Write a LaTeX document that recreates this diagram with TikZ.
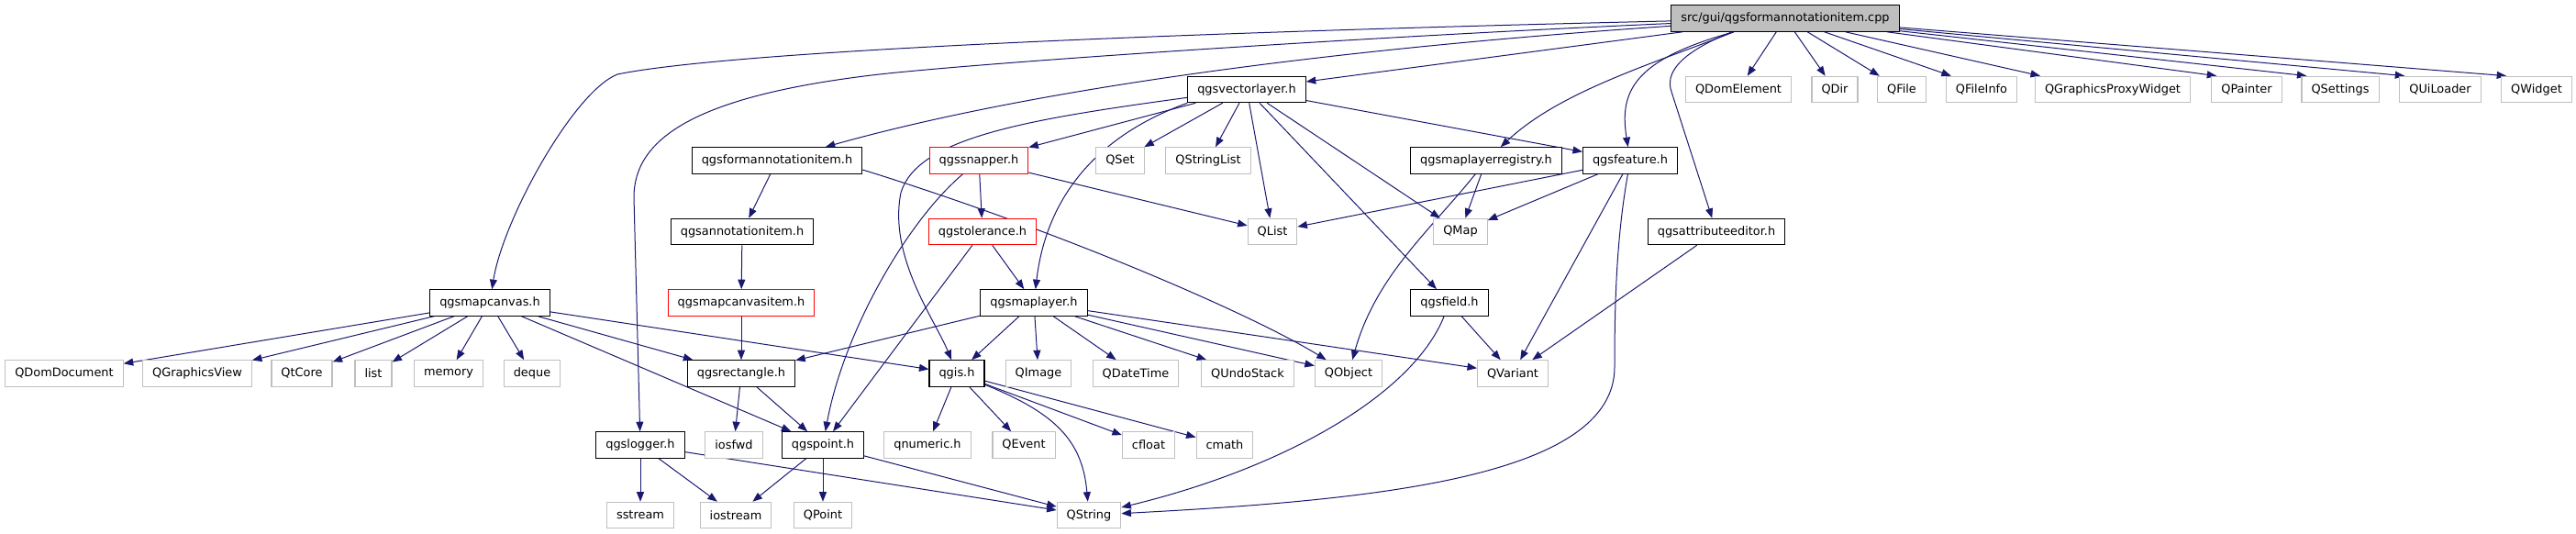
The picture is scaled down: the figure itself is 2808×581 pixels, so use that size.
\documentclass[tikz,border=0pt]{standalone}
\usepackage{fontspec}
\setmainfont{DejaVu Sans}
\usetikzlibrary{arrows.meta}
\definecolor{edgecol}{HTML}{191970}
\definecolor{extgray}{HTML}{BFBFBF}
\definecolor{rootfill}{HTML}{BFBFBF}
\pgfdeclarelayer{bg}
\pgfsetlayers{bg,main}
\begin{document}
\begin{tikzpicture}[x=1pt,y=-1pt,
  box/.style={draw, line width=1.1pt, fill=white, font=\fontsize{12.9}{14}\selectfont,
    inner xsep=10.5pt, inner ysep=0pt, minimum height=28.5pt, anchor=center},
  hdr/.style={box, draw=black},
  ext/.style={box, draw=extgray},
  redb/.style={box, draw=red},
  rootb/.style={box, draw=black, fill=rootfill},
  edge/.style={draw=edgecol, line width=1pt, -{Triangle[length=10.5pt,width=8pt]}},
]
\useasboundingbox (0,0) rectangle (2808,581);
% row 1
\node[rootb] (root) at (1946,20) {src/gui/qgsformannotationitem.cpp};
% row 2
\node[hdr] (vl) at (1359,97.5) {qgsvectorlayer.h};
\node[ext] (qde) at (1895,97.5) {QDomElement};
\node[ext] (qdir) at (2000,97.5) {QDir};
\node[ext] (qfile) at (2073,97.5) {QFile};
\node[ext] (qfinfo) at (2160,97.5) {QFileInfo};
\node[ext] (qgpw) at (2303,97.5) {QGraphicsProxyWidget};
\node[ext] (qpainter) at (2449,97.5) {QPainter};
\node[ext] (qsettings) at (2551,97.5) {QSettings};
\node[ext] (quil) at (2660,97.5) {QUiLoader};
\node[ext] (qwidget) at (2765,97.5) {QWidget};
% row 3
\node[hdr] (fai) at (847,175) {qgsformannotationitem.h};
\node[redb] (snap) at (1067,175) {qgssnapper.h};
\node[ext] (qset) at (1221,175) {QSet};
\node[ext] (qsl) at (1317,175) {QStringList};
\node[hdr] (mlr) at (1620,175) {qgsmaplayerregistry.h};
\node[hdr] (feat) at (1777,175) {qgsfeature.h};
% row 4
\node[hdr] (ai) at (809,252.5) {qgsannotationitem.h};
\node[redb] (tol) at (1071,252.5) {qgstolerance.h};
\node[ext] (qlist) at (1387,252.5) {QList};
\node[ext] (qmap) at (1592,252.5) {QMap};
\node[hdr] (attr) at (1871,252.5) {qgsattributeeditor.h};
% row 5
\node[hdr] (cnv) at (534,330) {qgsmapcanvas.h};
\node[redb] (mci) at (808,330) {qgsmapcanvasitem.h};
\node[hdr] (ml) at (1127,330) {qgsmaplayer.h};
\node[hdr] (field) at (1580,330) {qgsfield.h};
% row 6
\node[ext] (qdd) at (70,407) {QDomDocument};
\node[ext] (qgv) at (215,407) {QGraphicsView};
\node[ext] (qtcore) at (329,407) {QtCore};
\node[ext] (list) at (407,407) {list};
\node[ext] (memory) at (489,407) {memory};
\node[ext] (deque) at (580,407) {deque};
\node[hdr] (rect) at (808,407) {qgsrectangle.h};
\node[hdr] (qgis) at (1043,407) {qgis.h};
\node[ext] (qimage) at (1132,407) {QImage};
\node[ext] (qdt) at (1238,407) {QDateTime};
\node[ext] (qus) at (1360,407) {QUndoStack};
\node[ext] (qobj) at (1470,407) {QObject};
\node[ext] (qvar) at (1649,407) {QVariant};
% row 7
\node[hdr] (log) at (698,485) {qgslogger.h};
\node[ext] (iosfwd) at (800,485) {iosfwd};
\node[hdr] (pt) at (897,485) {qgspoint.h};
\node[ext] (qnum) at (1011,485) {qnumeric.h};
\node[ext] (qevent) at (1116,485) {QEvent};
\node[ext] (cfloat) at (1252,485) {cfloat};
\node[ext] (cmath) at (1335,485) {cmath};
% row 8
\node[ext] (sstream) at (698,561.5) {sstream};
\node[ext] (iostream) at (802,561.5) {iostream};
\node[ext] (qpoint) at (897,561.5) {QPoint};
\node[ext] (qstring) at (1187,561.5) {QString};

\begin{pgfonlayer}{bg}
% root
\draw[edge] (root) .. controls (1300,35) and (800,55) .. (673,81) .. controls (625,100) and (548,240) .. (cnv);
\draw[edge] (root) .. controls (1450,42) and (1050,70) .. (950,82) .. controls (760,105) and (691,150) .. (691,215) -- (log);
\draw[edge] (root) .. controls (1500,50) and (1150,90) .. (fai);
\draw[edge] (root) -- (vl);
\draw[edge] ([xshift=-56pt]root.south) .. controls (1800,70) and (1700,100) .. (mlr);
\draw[edge] ([xshift=-56pt]root.south) .. controls (1780,65) and (1765,100) .. (feat);
\draw[edge] ([xshift=-58pt]root.south) .. controls (1830,58) and (1815,80) .. (1822,100) -- (attr);
\foreach \t in {qde,qdir,qfile}
  \draw[edge] (root) -- (\t);
\foreach \t in {qfinfo,qgpw,qpainter,qsettings,quil,qwidget}
  \draw[edge] (root) -- ([xshift=6pt]\t.north west);
% qgsformannotationitem.h
\draw[edge] (fai) -- (ai);
\draw[edge] ([yshift=-10pt]fai.east) .. controls (1150,250) and (1360,340) .. (qobj);
\draw[edge] (ai) -- (mci);
\draw[edge] (mci) -- (rect);
% qgsmapcanvas.h
\foreach \t in {qdd,qgv,qtcore,list,memory,deque,rect,pt,qgis}
  \draw[edge] (cnv) -- (\t);
\draw[edge] (rect) -- (iosfwd);
\draw[edge] (rect) -- (pt);
\foreach \t in {sstream,iostream,qstring}
  \draw[edge] (log) -- (\t);
\foreach \t in {iostream,qpoint,qstring}
  \draw[edge] (pt) -- (\t);
% qgsvectorlayer.h
\draw[edge] (vl) .. controls (1120,130) and (1000,150) .. (982,210) .. controls (968,280) and (1020,350) .. (qgis);
\draw[edge] (vl.south west) .. controls (1190,150) and (1140,220) .. (ml);
\foreach \t in {snap,qset,qsl,qlist,qmap,feat,field}
  \draw[edge] (vl) -- (\t);
% qgssnapper.h
\draw[edge] (snap) -- (tol);
\draw[edge] (snap) -- (qlist);
\draw[edge] (snap) .. controls (990,240) and (920,360) .. (pt);
% qgstolerance.h
\draw[edge] (tol) -- (ml);
\draw[edge] (tol) -- (pt);
% qgsmaplayer.h
\foreach \t in {rect,qgis,qimage,qdt,qus,qobj,qvar}
  \draw[edge] (ml) -- (\t);
% qgis.h
\foreach \t in {qnum,qevent,cfloat,cmath}
  \draw[edge] (qgis) -- (\t);
\draw[edge] (qgis) .. controls (1150,450) and (1180,480) .. (qstring);
% qgsmaplayerregistry.h
\draw[edge] (mlr) -- (qmap);
\draw[edge] (mlr) .. controls (1560,250) and (1500,300) .. (qobj);
% qgsfeature.h
\foreach \t in {qlist,qmap,qvar}
  \draw[edge] (feat) -- (\t);
\draw[edge] (feat) .. controls (1762,260) and (1760,330) .. (1760,400) .. controls (1760,520) and (1500,545) .. (qstring);
% qgsfield.h
\draw[edge] (field) -- (qvar);
\draw[edge] (field) .. controls (1540,430) and (1400,510) .. (qstring);
% qgsattributeeditor.h
\draw[edge] (attr) -- (qvar);
\end{pgfonlayer}
\end{tikzpicture}
\end{document}
